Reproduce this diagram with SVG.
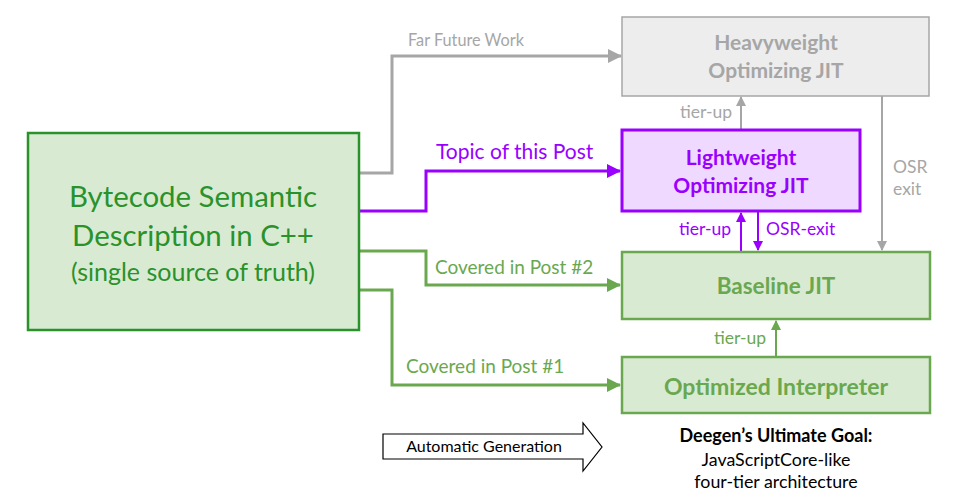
<svg xmlns="http://www.w3.org/2000/svg" width="962" height="503" viewBox="0 0 962 503">
<defs>
<style>
text{font-family:Lato,"Open Sans","Liberation Sans",sans-serif}
.gray{fill:#a6a6a6}
.purple{fill:#9900ff}
.green{fill:#6aa84f}
.b{font-weight:bold}
.c{text-anchor:middle}
.e{text-anchor:end}
.lg{stroke:#a6a6a6;stroke-width:3;fill:none}
.lp{stroke:#9900ff;stroke-width:3;fill:none}
.lgr{stroke:#6aa84f;stroke-width:3;fill:none}
.tg{stroke:#a6a6a6;stroke-width:2;fill:none}
.tp{stroke:#9900ff;stroke-width:2;fill:none}
.tgr{stroke:#6aa84f;stroke-width:2;fill:none}
</style>
<marker id="ag" markerWidth="10" markerHeight="10" refX="9" refY="5" orient="auto" markerUnits="userSpaceOnUse" viewBox="0 0 10 10"><path d="M0,0 L10,5 L0,10 z" fill="#a6a6a6"/></marker>
<marker id="ap" markerWidth="10" markerHeight="10" refX="9" refY="5" orient="auto" markerUnits="userSpaceOnUse" viewBox="0 0 10 10"><path d="M0,0 L10,5 L0,10 z" fill="#9900ff"/></marker>
<marker id="agr" markerWidth="10" markerHeight="10" refX="9" refY="5" orient="auto" markerUnits="userSpaceOnUse" viewBox="0 0 10 10"><path d="M0,0 L10,5 L0,10 z" fill="#6aa84f"/></marker>
<marker id="agL" markerWidth="14" markerHeight="14" refX="13" refY="7" orient="auto" markerUnits="userSpaceOnUse" viewBox="0 0 14 14"><path d="M0,0 L14,7 L0,14 z" fill="#a6a6a6"/></marker>
<marker id="apL" markerWidth="14" markerHeight="14" refX="13" refY="7" orient="auto" markerUnits="userSpaceOnUse" viewBox="0 0 14 14"><path d="M0,0 L14,7 L0,14 z" fill="#9900ff"/></marker>
<marker id="agrL" markerWidth="14" markerHeight="14" refX="13" refY="7" orient="auto" markerUnits="userSpaceOnUse" viewBox="0 0 14 14"><path d="M0,0 L14,7 L0,14 z" fill="#6aa84f"/></marker>
</defs>
<rect width="962" height="503" fill="#ffffff"/>

<g id="connectors">
<path class="lg" d="M359,173 H392 V56 H621" marker-end="url(#agL)"/>
<path class="lp" d="M359,211 H426 V171 H620" marker-end="url(#apL)"/>
<path class="lgr" d="M359,251 H426 V285 H620" marker-end="url(#agrL)"/>
<path class="lgr" d="M359,290 H392 V385 H620" marker-end="url(#agrL)"/>
<path class="tg" d="M741,129 V97" marker-end="url(#ag)"/>
<path class="tg" d="M882,96 V250" marker-end="url(#ag)"/>
<path class="tp" d="M741,251 V213" marker-end="url(#ap)"/>
<path class="tp" d="M758,212 V250" marker-end="url(#ap)"/>
<path class="tgr" d="M776,356 V321" marker-end="url(#agr)"/>
<text class="gray" x="408" y="46" font-size="16.3">Far Future Work</text>
<text class="purple" x="436" y="159" font-size="21">Topic of this Post</text>
<text class="green" x="435" y="274" font-size="19">Covered in Post #2</text>
<text class="green" x="406" y="373" font-size="19">Covered in Post #1</text>
<text class="gray e" x="732" y="118" font-size="17.5">tier-up</text>
<text class="gray" x="893" y="173" font-size="17.5">OSR</text>
<text class="gray" x="893" y="195" font-size="17.5">exit</text>
<text class="purple e" x="731" y="235" font-size="17.5">tier-up</text>
<text class="purple" x="766" y="235" font-size="17.5">OSR-exit</text>
<text class="green e" x="766" y="344" font-size="17.5">tier-up</text>
</g>

<g id="source">
<rect x="28" y="133" width="331" height="197" fill="#d9ead3" stroke="#2a922a" stroke-width="2.5"/>
<text x="193" y="207" font-size="29.4" fill="#2a922a" class="c">Bytecode Semantic</text>
<text x="193" y="246" font-size="29.4" fill="#2a922a" class="c">Description in C++</text>
<text x="193" y="281" font-size="25" fill="#2a922a" class="c">(single source of truth)</text>
</g>

<g id="heavyweight">
<rect x="622" y="17" width="307" height="79" fill="#ededed" stroke="#a6a6a6" stroke-width="1.5"/>
<text class="gray b c" x="776" y="50" font-size="21">Heavyweight</text>
<text class="gray b c" x="776" y="78" font-size="21">Optimizing JIT</text>
</g>

<g id="lightweight">
<rect x="622" y="130" width="238" height="81" fill="#f0d9ff" stroke="#9900ff" stroke-width="3"/>
<text class="purple b c" x="741" y="165" font-size="21">Lightweight</text>
<text class="purple b c" x="741" y="193" font-size="21">Optimizing JIT</text>
</g>

<g id="baseline">
<rect x="622" y="252" width="308" height="67" fill="#d9ead3" stroke="#6aa84f" stroke-width="2.5"/>
<text class="green b c" x="776" y="294" font-size="22.5">Baseline JIT</text>
</g>

<g id="interpreter">
<rect x="622" y="357" width="308" height="56" fill="#d9ead3" stroke="#6aa84f" stroke-width="2.5"/>
<text class="green b c" x="776" y="395" font-size="23">Optimized Interpreter</text>
</g>

<g id="legend">
<path d="M383,434 H583 V423 L602,447 L583,471 V459 H383 Z" fill="#ffffff" stroke="#000000" stroke-width="1.2"/>
<text x="484" y="452" font-size="16" fill="#000000" class="c">Automatic Generation</text>
</g>

<g id="goal">
<text x="776" y="442" font-size="18" fill="#000000" class="b c">Deegen’s Ultimate Goal:</text>
<text x="776" y="466" font-size="17.8" fill="#000000" class="c">JavaScriptCore-like</text>
<text x="776" y="488" font-size="17.8" fill="#000000" class="c">four-tier architecture</text>
</g>
</svg>
